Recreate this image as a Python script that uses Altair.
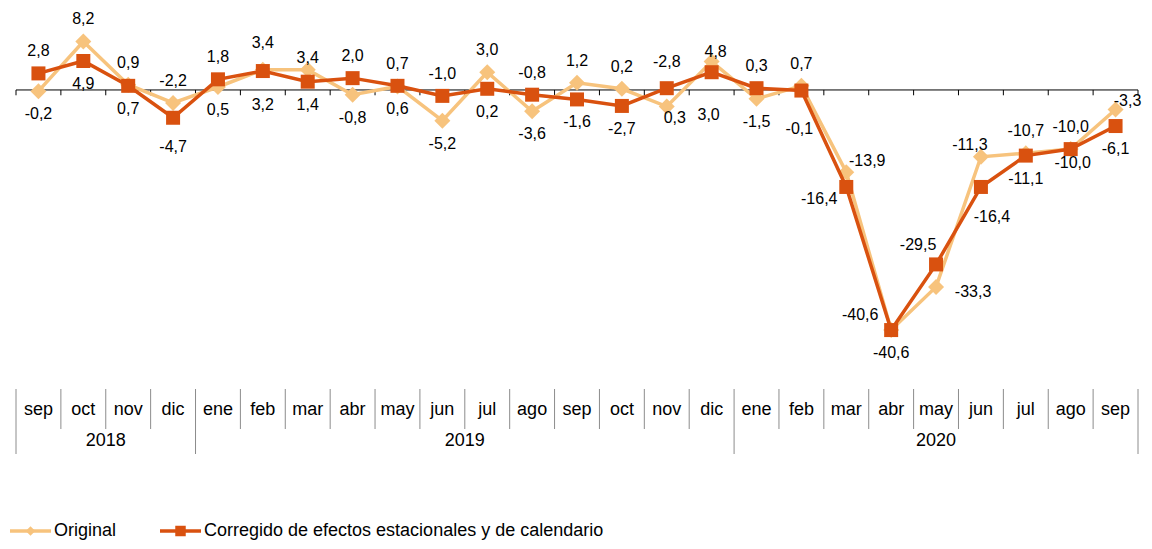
import altair as alt
import pandas as pd

# ---------------- data ----------------
months = ["sep", "oct", "nov", "dic", "ene", "feb", "mar", "abr", "may", "jun", "jul", "ago",
          "sep", "oct", "nov", "dic", "ene", "feb", "mar", "abr", "may", "jun", "jul", "ago", "sep"]
years = ["2018", "2019", "2020"]
months_per_year = [4, 12, 9]
original = [-0.2, 8.2, 0.9, -2.2, 0.5, 3.4, 3.4, -0.8, 0.6, -5.2, 3.0, -3.6, 1.2, 0.2, -2.8, 4.8,
            -1.5, 0.7, -13.9, -40.6, -33.3, -11.3, -10.7, -10.0, -3.3]
corregido = [2.8, 4.9, 0.7, -4.7, 1.8, 3.2, 1.4, 2.0, 0.7, -1.0, 0.2, -0.8, -1.6, -2.7, 0.3, 3.0,
             0.3, -0.1, -16.4, -40.6, -29.5, -16.4, -11.1, -10.0, -6.1]
series_names = ["Original", "Corregido de efectos estacionales y de calendario"]

# ---------------- style ----------------
LIGHT = "#F7C37D"
DARK = "#D9510F"
FONT = "Liberation Sans"
X0 = 6          # left inset of the category range
W = 1122        # width of the category range
TOTAL_W = X0 + W + 2
N = len(months)
Y_MIN, Y_MAX = -46.0, 13.86
TOP_H = 354

# default label offsets (pixels) and a few hand placements as in the original figure
ABOVE = (0, -22)
BELOW = (0, 23)
LABEL_NUDGE = {
    (0, 5): (0, -27), (0, 6): (0, -12), (0, 14): (0, -45), (0, 15): (4, -10),
    (0, 18): (21, -11), (0, 19): (-31, -15), (0, 20): (37, 5), (0, 21): (-11, -12),
    (0, 24): (12, -8),
    (1, 3): (0, 29), (1, 5): (0, 34), (1, 14): (8, 30), (1, 15): (-3, 43),
    (1, 17): (-2, 38), (1, 18): (-27, 12), (1, 20): (-18, -19), (1, 21): (11, 30),
    (1, 23): (2, 14),
}


def fmt(v):
    return f"{v:.1f}".replace(".", ",")


rows = []
for i in range(N):
    pairs = [(0, original[i], corregido[i]), (1, corregido[i], original[i])]
    for k, v, other in pairs:
        above = v > other or (v == other and k == 0)
        dx, dy = LABEL_NUDGE.get((k, i), ABOVE if above else BELOW)
        rows.append({"pos": i + 0.5, "value": v, "series": series_names[k],
                     "label": fmt(v), "grp": f"{dx}_{dy}"})
df = pd.DataFrame(rows)

xscale = alt.Scale(domain=[0, N], range=[X0, X0 + W], nice=False, zero=False)
yscale = alt.Scale(domain=[Y_MIN, Y_MAX], nice=False, zero=False)

color = alt.Color("series:N", scale=alt.Scale(domain=series_names, range=[LIGHT, DARK]),
                  legend=None)

base = alt.Chart(df).encode(
    x=alt.X("pos:Q", scale=xscale, axis=None),
    y=alt.Y("value:Q", scale=yscale, axis=None),
    color=color,
)

zero_df = pd.DataFrame({"x0": [0], "x1": [N], "z": [0]})
zero = alt.Chart(zero_df).mark_rule(color="black", strokeWidth=1).encode(
    x=alt.X("x0:Q", scale=xscale, axis=None), x2="x1:Q",
    y=alt.Y("z:Q", scale=yscale, axis=None))

tick_df = pd.DataFrame({"b": list(range(N + 1)), "t0": 0.0, "t1": -0.9})
bticks = alt.Chart(tick_df).mark_rule(color="black", strokeWidth=1).encode(
    x=alt.X("b:Q", scale=xscale, axis=None),
    y=alt.Y("t0:Q", scale=yscale, axis=None), y2="t1:Q")

layers = [zero, bticks]
for name, shape, size in [(series_names[0], "diamond", 256), (series_names[1], "square", 196)]:
    s = base.transform_filter(alt.datum.series == name)
    layers.append(s.mark_line(strokeWidth=3.5))
    layers.append(s.mark_point(shape=shape, filled=True, size=size, opacity=1))

lab = base.encode(text="label:N", color=alt.value("black"))
for g in sorted(df["grp"].unique()):
    dx, dy = (int(t) for t in g.split("_"))
    layers.append(lab.transform_filter(alt.datum.grp == g).mark_text(
        font=FONT, fontSize=16, dx=dx, dy=dy, baseline="middle"))

top = alt.layer(*layers).properties(width=TOTAL_W, height=TOP_H)

# ---------------- category axis (months / years) ----------------
year_starts = [sum(months_per_year[:k]) for k in range(len(years))]
year_bounds = year_starts + [N]
month_bounds = [b for b in range(1, N) if b not in year_bounds]

mdf = pd.DataFrame({"pos": [i + 0.5 for i in range(N)], "m": months})
ydf = pd.DataFrame({"pos": [s + c / 2 for s, c in zip(year_starts, months_per_year)], "y": years})

ax_layers = [
    alt.Chart(pd.DataFrame({"b": month_bounds})).mark_rule(color="#8c8c8c", strokeWidth=1).encode(
        x=alt.X("b:Q", scale=xscale, axis=None), y=alt.value(0), y2=alt.value(40)),
    alt.Chart(pd.DataFrame({"b": year_bounds})).mark_rule(color="#8c8c8c", strokeWidth=1).encode(
        x=alt.X("b:Q", scale=xscale, axis=None), y=alt.value(0), y2=alt.value(65)),
    alt.Chart(mdf).mark_text(font=FONT, fontSize=18, color="black", baseline="middle").encode(
        x=alt.X("pos:Q", scale=xscale, axis=None), y=alt.value(21), text="m:N"),
    alt.Chart(ydf).mark_text(font=FONT, fontSize=18, color="black", baseline="middle").encode(
        x=alt.X("pos:Q", scale=xscale, axis=None), y=alt.value(52), text="y:N"),
]
axis_chart = alt.layer(*ax_layers).properties(width=TOTAL_W, height=65)

# ---------------- legend ----------------
leg_x = [0, 150]
LEG_Y = 50
ldf = pd.DataFrame({"series": series_names, "lx": leg_x})
lscale = alt.Scale(domain=[0, TOTAL_W], range=[0, TOTAL_W], nice=False)
leg_items = []
for name, col, shape, size in [(series_names[0], LIGHT, "diamond", 90),
                               (series_names[1], DARK, "square", 110)]:
    c = alt.Chart(ldf).transform_filter(alt.datum.series == name).transform_calculate(
        lx2="datum.lx + 41", lxm="datum.lx + 20.5", ltx="datum.lx + 44")
    leg_items.append(c.mark_rule(color=col, strokeWidth=3.5).encode(
        x=alt.X("lx:Q", scale=lscale, axis=None), x2="lx2:Q", y=alt.value(LEG_Y)))
    leg_items.append(c.mark_point(shape=shape, filled=True, size=size, opacity=1, color=col).encode(
        x=alt.X("lxm:Q", scale=lscale, axis=None), y=alt.value(LEG_Y)))
    leg_items.append(c.mark_text(font=FONT, fontSize=18, color="black", align="left",
                                 baseline="middle").encode(
        x=alt.X("ltx:Q", scale=lscale, axis=None), y=alt.value(LEG_Y), text="series:N"))
legend_chart = alt.layer(*leg_items).properties(width=TOTAL_W, height=LEG_Y + 9)

chart = alt.vconcat(top, axis_chart, legend_chart, spacing=26).properties(
    padding={"left": 0, "top": 0, "right": 0, "bottom": 0}
).configure_view(stroke=None)

chart.save("out.html", embed_options={"renderer": "svg", "actions": False})
